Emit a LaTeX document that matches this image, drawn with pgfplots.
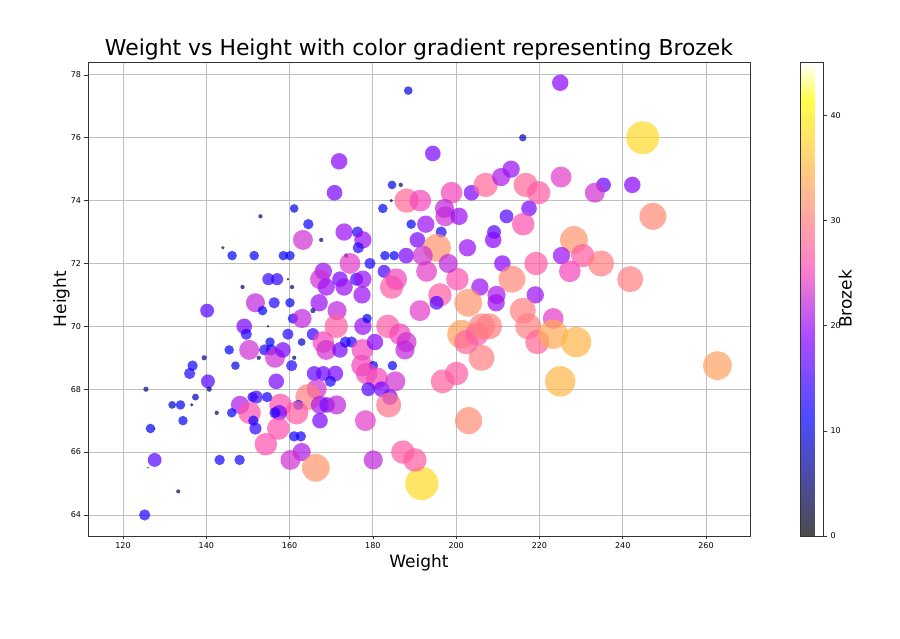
\documentclass[border=0pt]{standalone}
\usepackage{fontspec}
\setmainfont{DejaVu Sans}
\usepackage{pgfplots}
\usepackage{pgfplotstable}
\pgfplotsset{compat=1.18, /pgf/number format/assume math mode=true}
\pgfplotstableread{
w h b
225.0 77.75 19
188.5 77.5 10
216.0 76.0 8.5
244.8 76.0 38
194.4 75.5 18
171.9 75.25 19
170.8 74.25 18
184.6 74.5 10
186.7 74.5 5
184.4 74.0 4
182.4 73.75 11
188.1 74.0 28
191.4 74.0 25
198.9 74.25 25
203.7 74.25 18
207.1 74.5 28
210.8 74.75 21
213.2 75.0 20
216.7 74.5 28
219.8 74.25 27
217.5 73.75 18
216.1 73.25 26
225.2 74.75 24
235.4 74.5 17
233.3 74.25 23
242.3 74.5 19
247.25 73.5 31.1
228.3 72.75 32
225.3 72.25 20
230.4 72.25 27
234.8 72.0 30
219.2 72.0 27
227.3 71.75 25
241.8 71.5 30
219.0 71.0 20
164.5 73.25 12
167.6 72.75 5
173.1 73.0 20
176.3 73.0 13
177.6 72.75 20
176.5 72.5 13
173.6 72.25 5
179.3 72.0 13
182.9 72.25 11
185.1 72.25 11
182.7 71.75 15
188.0 72.25 18
189.2 73.25 11
192.7 73.25 20
190.7 72.75 18
196.4 73.0 13
197.4 73.5 23
197.2 73.75 22
200.7 73.5 20
195.4 72.5 32
202.7 72.5 20
209.1 73.0 16
208.9 72.75 19
212.1 73.5 16
211.1 72.0 19
213.4 71.5 31
205.7 71.25 20
209.7 71.0 21
200.3 71.5 26
198.1 72.0 22
192.9 71.75 24
196.1 71.0 27
195.3 70.75 16
202.9 70.75 32
191.3 70.5 24
184.5 71.25 27
185.6 71.5 25
163.2 72.75 23
161.1 73.75 10
153.0 73.5 5
144.0 72.5 4
146.2 72.25 11
151.5 72.25 11
158.5 72.25 11
160.1 72.25 11
154.9 71.5 14
157.0 71.5 14
159.6 71.5 3
148.7 71.25 5
160.6 71.25 5
151.8 70.75 22
156.3 70.75 13
160.1 70.75 11
153.5 70.5 11
140.2 70.5 16
168.1 71.75 20
167.3 71.5 23
168.8 71.25 20
172.1 71.5 18
173.1 71.25 20
176.1 71.5 15
177.6 71.5 20
177.4 71.0 20
174.5 72.0 24
167.1 70.75 20
171.4 70.5 22
149.1 70.0 18
149.6 69.75 13
154.8 70.0 3
159.6 69.75 13
162.9 69.5 9
160.8 70.25 12
163.0 70.25 22
165.6 70.5 6
165.6 69.75 14
171.2 70.0 27
168.1 69.5 25
168.8 69.25 23
172.1 69.25 18
173.4 69.5 13
174.9 69.5 13
177.5 69.25 25
177.6 70.0 20
178.6 70.25 11
180.5 69.5 19
183.6 70.0 27
186.5 69.75 25
188.1 69.5 23
187.7 69.25 22
177.4 68.75 25
180.1 68.75 11
184.7 68.75 11
178.5 68.5 25
181.0 68.35 25
178.9 68.0 16
182.1 68.0 18
185.4 68.25 23
184.1 67.75 18
183.8 67.5 29
165.9 68.5 17
168.1 68.5 17
171.0 68.5 18
169.8 68.25 13
166.5 68.0 23
164.5 67.75 30
167.3 67.5 21
169.0 67.5 18
171.3 67.5 22
162.1 67.5 12
167.3 67.0 18
161.7 67.25 27
157.8 67.5 26
157.5 67.25 18
156.5 67.25 13
157.3 66.75 26
151.1 67.75 12
152.0 67.75 15
152.3 67.75 2
154.6 67.75 12
148.1 67.5 21
150.4 67.25 26
146.1 67.25 11
151.3 67.0 12
151.8 66.75 14
154.3 66.25 26
161.1 66.5 12
162.7 66.5 12
162.9 66.0 21
160.2 65.75 23
166.3 65.5 32
143.2 65.75 12
148.0 65.75 12
145.5 69.25 11
150.3 69.25 23
154.0 69.25 13
155.6 69.25 13
155.3 69.5 11
156.5 69.0 23
158.4 69.25 18
152.6 69.0 5
161.1 69.0 5
160.5 68.75 13
147.0 68.75 10
156.8 68.25 18
139.5 69.0 6
136.7 68.75 12
136.0 68.5 13
140.4 68.25 16
140.7 68.0 6
125.5 68.0 6
137.4 67.75 8
131.8 67.5 9
133.8 67.5 11
136.5 67.5 4
134.4 67.0 11
142.5 67.25 5
126.6 66.75 11
127.6 66.75 1
127.6 65.75 16
126.0 65.5 0.5
133.25 64.75 4.7
125.2 64.0 13
191.75 65.0 38.2
187.2 66.0 27
190.1 65.75 27
180.1 65.75 22
178.2 67.0 24
203.0 67.0 31.3
196.75 68.25 27.5
200.1 68.5 27
206.1 69.0 30
201.3 69.75 33
202.4 69.5 28
205.0 69.75 27
206.2 70.0 30
207.9 70.0 30
216.0 70.5 30
217.3 70.0 30
219.5 69.5 28
223.3 70.25 24
223.3 69.75 34
228.8 69.5 35
225.0 68.25 35
262.75 68.75 33.1
209.6 70.75 20
192.0 72.25 23
}\bodydata
\begin{document}
\begin{tikzpicture}
\path[use as bounding box] (-88pt,-103pt) rectangle (812pt,536pt);
\begin{axis}[
  at={(0pt,0pt)}, anchor=south west,
  width=662pt, height=474pt, scale only axis,
  xmin=111.59, xmax=270.57, ymin=63.33, ymax=78.41,
  xtick={120,140,...,260}, ytick={64,66,...,78},
  grid=major, grid style={black!25, line width=0.8pt},
  axis line style={black!80, line width=0.8pt},
  tick align=outside, tick pos=left, major tick length=3.5pt,
  tick style={black!80, line width=0.6pt},
  ticklabel style={font=\fontsize{8}{9}\selectfont},
  title={Weight vs Height with color gradient representing Brozek},
  title style={font=\fontsize{21.9}{26}\selectfont, at={(axis description cs:0.5,1)}, anchor=base},
  xlabel={Weight}, ylabel={Height},
  xlabel style={font=\fontsize{17}{20}\selectfont, at={(axis description cs:0.5,0)}, anchor=base, yshift=-32pt},
  ylabel style={font=\fontsize{17}{20}\selectfont, at={(axis description cs:-0.0332,0.5)}, anchor=base},
  colormap={gnuplottwo}{rgb(0pt)=(0,0,0); rgb(25pt)=(0,0,1); rgb(42pt)=(0.53125,0,1); rgb(57pt)=(1,0.3,0.7); rgb(92pt)=(1,1,0); rgb(100pt)=(1,1,1)},
  point meta min=0, point meta max=45.1,
  colorbar,
  colorbar style={
    at={(parent axis.north east)}, anchor=north west, xshift=42pt,
    width=23pt,
    ytick={0,10,20,30,40},
    ytick pos=right, yticklabel pos=right,
    ylabel={Brozek},
    ylabel style={font=\fontsize{17}{20}\selectfont, at={(axis description cs:2.22,0.5)}, anchor=base},
    yticklabel style={font=\fontsize{8}{9}\selectfont},
    axis line style={black!80, line width=0.8pt},
    tick style={black!80, line width=0.6pt},
    major tick length=3.5pt, tick align=outside,
    every axis plot/.append style={opacity=0.7},
  },
]
\addplot[scatter, only marks, mark=*,
  point meta=\thisrow{b},
  scatter/use mapped color={draw opacity=0, fill=mapped color, fill opacity=0.7},
  visualization depends on={0.434*\thisrow{b} \as \msize},
  scatter/@pre marker code/.append style={/tikz/mark size={max(\msize,0.8)}},
] table[x=w, y=h] {\bodydata};
\end{axis}
\end{tikzpicture}
\end{document}
